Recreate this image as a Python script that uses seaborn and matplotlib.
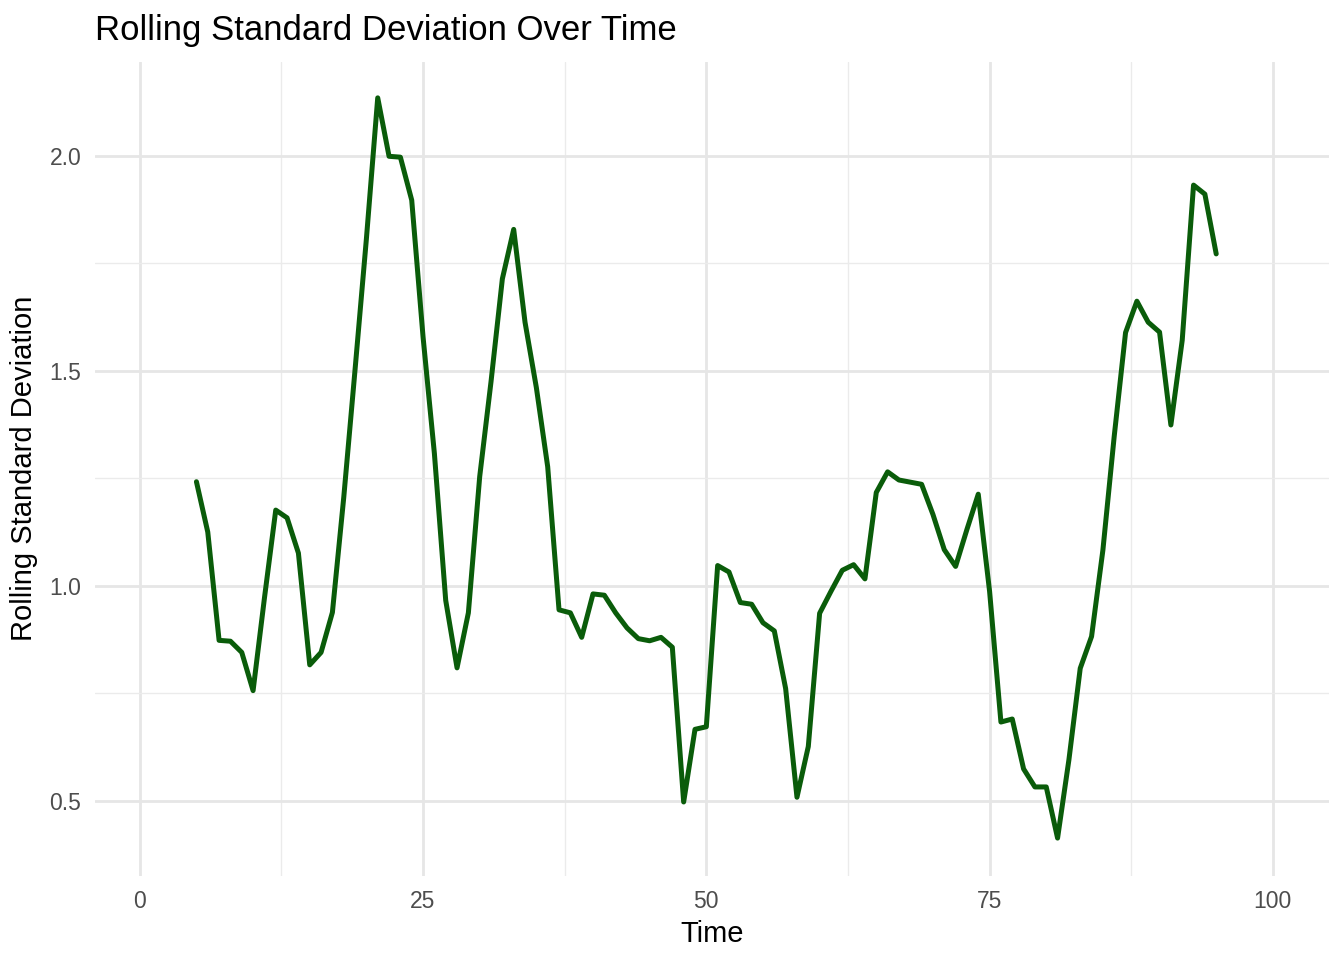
import matplotlib
matplotlib.use('Agg')
import matplotlib.pyplot as plt
import seaborn as sns
import pandas as pd

# rolling sd values, time 5..95
time = list(range(5, 96))
rolling_sd = [
    1.242, 1.125, 0.873, 0.871, 0.845, 0.756, 0.971, 1.176, 1.158, 1.076,
    0.816, 0.845, 0.938, 1.205, 1.503, 1.807, 2.135, 1.999, 1.997, 1.897,
    1.579, 1.308, 0.966, 0.809, 0.937, 1.254, 1.475, 1.714, 1.829, 1.613,
    1.461, 1.277, 0.944, 0.937, 0.880, 0.981, 0.978, 0.937, 0.902, 0.877,
    0.872, 0.880, 0.857, 0.497, 0.666, 0.672, 1.047, 1.032, 0.961, 0.957,
    0.914, 0.895, 0.761, 0.508, 0.626, 0.936, 0.987, 1.036, 1.049, 1.016,
    1.217, 1.265, 1.246, 1.241, 1.236, 1.166, 1.084, 1.045, 1.131, 1.213,
    0.987, 0.683, 0.690, 0.574, 0.532, 0.532, 0.413, 0.595, 0.808, 0.882,
    1.083, 1.348, 1.589, 1.662, 1.613, 1.590, 1.374, 1.571, 1.932, 1.911,
    1.772,
]
x_breaks = [0, 25, 50, 75, 100]
y_breaks = [0.5, 1.0, 1.5, 2.0]
x_minor = [12.5, 37.5, 62.5, 87.5]
y_minor = [0.75, 1.25, 1.75]

df = pd.DataFrame({'Time': time, 'RollingSD': rolling_sd})

sns.set_theme(style='white')
plt.rcParams['font.family'] = ['Liberation Sans', 'DejaVu Sans']

fig = plt.figure(figsize=(13.44, 9.6), dpi=100)
ax = fig.add_axes([0.0707, 0.0878, 0.9181, 0.8479])

sns.lineplot(data=df, x='Time', y='RollingSD', color='#0a5c0a', linewidth=3.6, ax=ax)

ax.set_xlim(1 - 4.95, 100 + 4.95)
ax.set_ylim(0.3255, 2.219)
ax.set_xticks(x_breaks)
ax.set_xticklabels([str(v) for v in x_breaks])
ax.set_yticks(y_breaks)
ax.set_yticklabels([f'{v:.1f}' for v in y_breaks])
ax.set_xticks(x_minor, minor=True)
ax.set_yticks(y_minor, minor=True)

ax.grid(which='major', color='#E6E6E6', linewidth=2.0)
ax.grid(which='minor', color='#EBEBEB', linewidth=1.0)
ax.set_axisbelow(True)
for s in ax.spines.values():
    s.set_visible(False)

ax.tick_params(which='both', length=0, pad=10, labelsize=16.5, labelcolor='#4D4D4D')

ax.set_title('Rolling Standard Deviation Over Time', loc='left', fontsize=25, pad=16, color='black')
ax.set_xlabel('Time', fontsize=21, labelpad=5, color='black')
ax.set_ylabel('Rolling Standard Deviation', fontsize=21, labelpad=8, color='black')

plt.savefig('out.png', dpi=100)
